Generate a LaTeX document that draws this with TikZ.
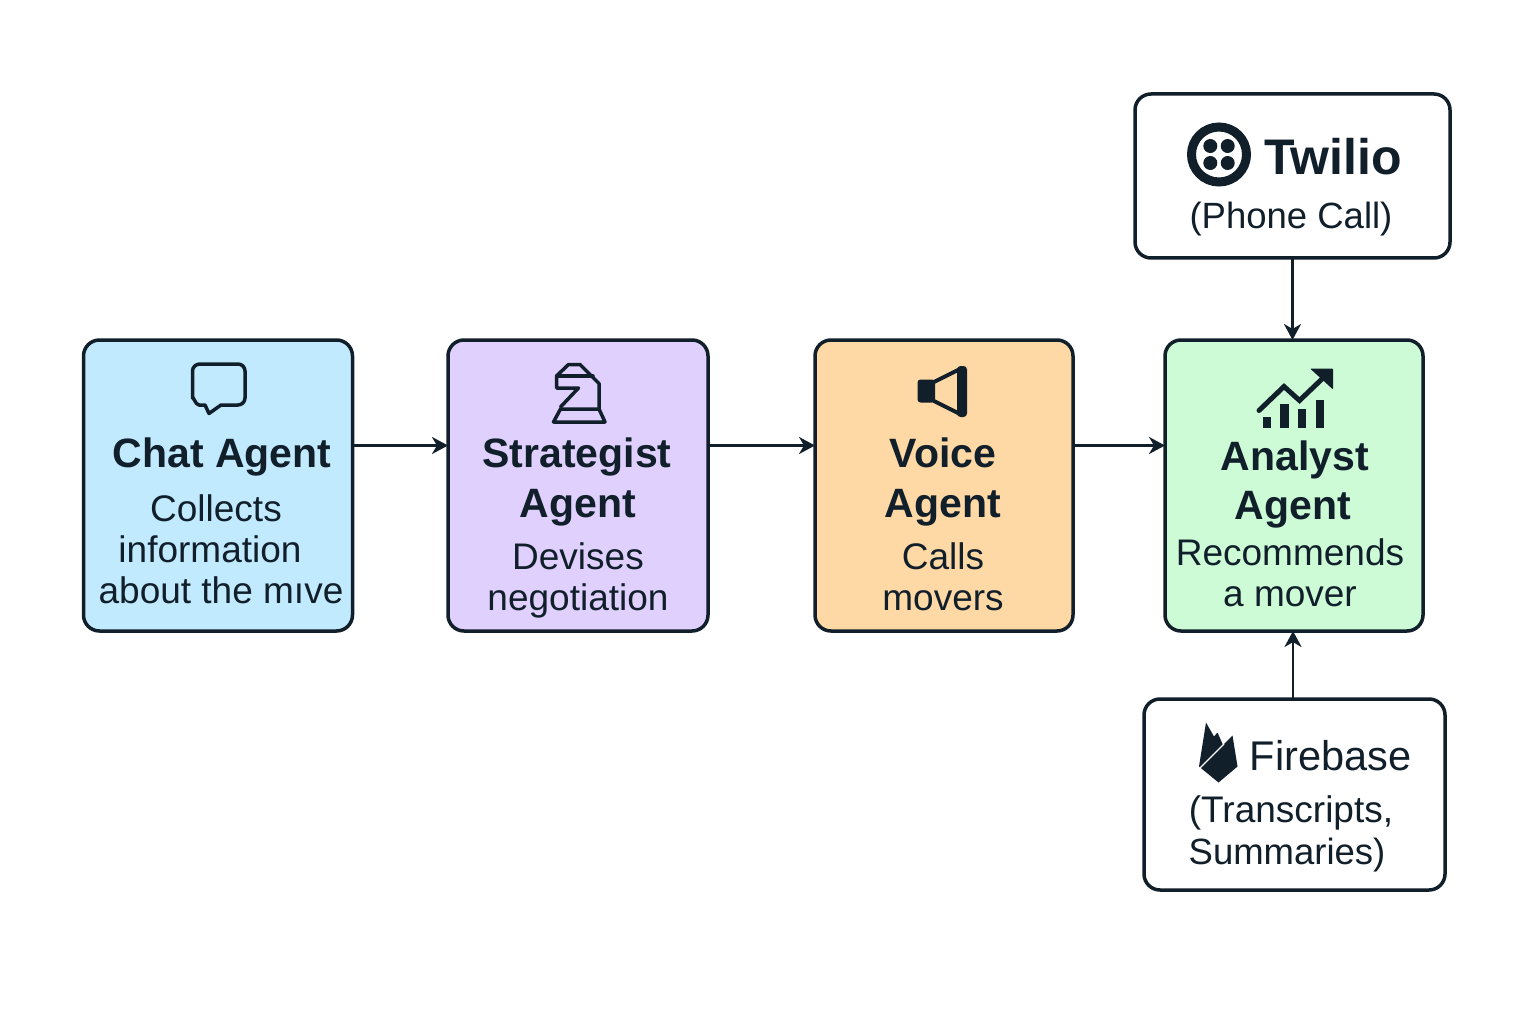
\documentclass[tikz,border=0pt]{standalone}
\usepackage{fontspec}
\setmainfont{Liberation Sans}
\usetikzlibrary{arrows.meta}
\definecolor{ink}{HTML}{111F2B}
\definecolor{chatfill}{HTML}{C2EAFF}
\definecolor{stratfill}{HTML}{E0D0FD}
\definecolor{voicefill}{HTML}{FED8A5}
\definecolor{analystfill}{HTML}{CCFBD6}
\tikzset{
  box/.style={draw=ink, line width=3.5pt, rounded corners=16pt, outer sep=0pt, inner sep=0pt},
  heading/.style={anchor=base, text=ink, font=\bfseries\fontsize{41}{41}\selectfont},
  caption/.style={anchor=base, text=ink, font=\fontsize{37}{37}\selectfont},
  link/.style={draw=ink, line width=2.8pt, -{Stealth[length=16pt,width=17pt,inset=5pt]}},
  icon/.style={draw=ink, line width=3.5pt, line join=round, line cap=round},
  solid icon/.style={fill=ink, draw=none}
}
\begin{document}
\begin{tikzpicture}[x=1pt, y=-1pt]
  \useasboundingbox (0,0) rectangle (1536,1024);
  % boxes
  \node[box, fill=chatfill, minimum width=269pt, minimum height=291pt] (chat) at (218,485.5) {};
  \node[box, fill=stratfill, minimum width=260pt, minimum height=291pt] (strategist) at (578,485.5) {};
  \node[box, fill=voicefill, minimum width=258pt, minimum height=291pt] (voice) at (944,485.5) {};
  \node[box, fill=analystfill, minimum width=258pt, minimum height=291pt] (analyst) at (1294,485.5) {};
  \node[box, fill=white, minimum width=315pt, minimum height=164pt] (twilio) at (1292.5,176) {};
  \node[box, fill=white, minimum width=301pt, minimum height=191pt] (firebase) at (1294.5,794.5) {};
  % links
  \draw[link] ([yshift=40pt]chat.east) -- ([yshift=40pt]strategist.west);
  \draw[link] ([yshift=40pt]strategist.east) -- ([yshift=40pt]voice.west);
  \draw[link] ([yshift=40pt]voice.east) -- ([yshift=40pt]analyst.west);
  \draw[link] (twilio.south) -- (twilio.south |- analyst.north);
  \draw[link] ([xshift=-1.5pt]firebase.north) -- ([xshift=-1.5pt]firebase.north |- analyst.south);
  % chat
  \draw[icon] (205,405) -- (199,405) to[out=180,in=90] (192.5,398) -- (192.5,371)
    to[out=90,in=180] (200,364) -- (238,364) to[out=0,in=90] (245,371) -- (245,398)
    to[out=-90,in=0] (238,405) -- (221,405) -- (209,413.5) -- (205,405) -- cycle;
  \node[heading] (chatname) at (222,467) {Chat Agent};
  \node[caption] (chatline1) at (216,521) {Collects};
  \node[caption] (chatline2) at (210,562) {information};
  \node[caption] (chatline3) at (221,603) {about the mıve};
  % strategist
  \draw[icon] (553.5,422) -- (605,422) -- (599,409) -- (560.5,409) -- cycle;
  \draw[icon] (599,409) -- (599,383.5) -- (580,364.5) -- (568.5,364.5) -- (556.5,376)
    -- (556.5,388) -- (578.5,388) -- (560.5,407);
  \draw[icon] (557,376) -- (593,376);
  \node[heading] (stratname1) at (577,467) {Strategist};
  \node[heading] (stratname2) at (578,517) {Agent};
  \node[caption] (stratline1) at (578,569) {Devises};
  \node[caption] (stratline2) at (578,610) {negotiation};
  % voice
  \fill[ink, rounded corners=3pt] (917.5,379.5) rectangle (935,402.5);
  \fill[ink, rounded corners=3.5pt] (957,366) rectangle (967,417);
  \draw[icon, line width=4pt] (934,382) -- (960,369);
  \draw[icon, line width=4pt] (934,401) -- (960,414);
  \node[heading] (voicename1) at (943,467) {Voice};
  \node[heading] (voicename2) at (943,517) {Agent};
  \node[caption] (voiceline1) at (943,569) {Calls};
  \node[caption] (voiceline2) at (943,610) {movers};
  % analyst
  \foreach \xa/\xb/\ya in {1262.5/1270.5/416.5, 1280/1288.5/403.5, 1297.5/1306/408.5, 1315.5/1323.5/399.5}
    \fill[ink] (\xa,\ya) rectangle (\xb,428);
  \draw[icon, line width=5pt, line join=miter] (1259,410.5) -- (1284,386.5) -- (1299.5,400.5) -- (1323,378);
  \fill[ink, rounded corners=1pt] (1310,368.5) -- (1333,368.5) -- (1333,389.5) -- cycle;
  \node[heading] (analystname1) at (1295,470) {Analyst};
  \node[heading] (analystname2) at (1293,519) {Agent};
  \node[caption] (analystline1) at (1290,565) {Recommends};
  \node[caption] (analystline2) at (1290,606) {a mover};
  % twilio
  \draw[ink, line width=9pt] (1219,154.5) circle (27.5);
  \foreach \dx in {-8.7,8.7}
    \foreach \dy in {-8.5,8.5}
      \fill[ink] (1219+\dx,154.5+\dy) circle (7);
  \node[heading, font=\bfseries\fontsize{50}{50}\selectfont] (twilioname) at (1333,175) {Twilio};
  \node[caption, font=\fontsize{36.5}{36.5}\selectfont] (twilioline) at (1291,229) {(Phone Call)};
  % firebase
  \fill[ink] (1199,766.5) -- (1206,722.5) -- (1214,736.5) -- (1217.5,732.5) -- (1223,745)
    -- (1232.5,735.5) -- (1237.5,766.5) -- (1218.5,782.5) -- cycle;
  \draw[white, line width=1.2pt] (1200,768) -- (1224,744);
  \node[heading, font=\fontsize{41.5}{41.5}\selectfont] (firebasename) at (1330.5,770) {Firebase};
  \node[caption, font=\fontsize{37}{37}\selectfont] (firebaseline1) at (1291,822) {(Transcripts,};
  \node[caption, font=\fontsize{36.5}{36.5}\selectfont] (firebaseline2) at (1287,864) {Summaries)};
\end{tikzpicture}
\end{document}
